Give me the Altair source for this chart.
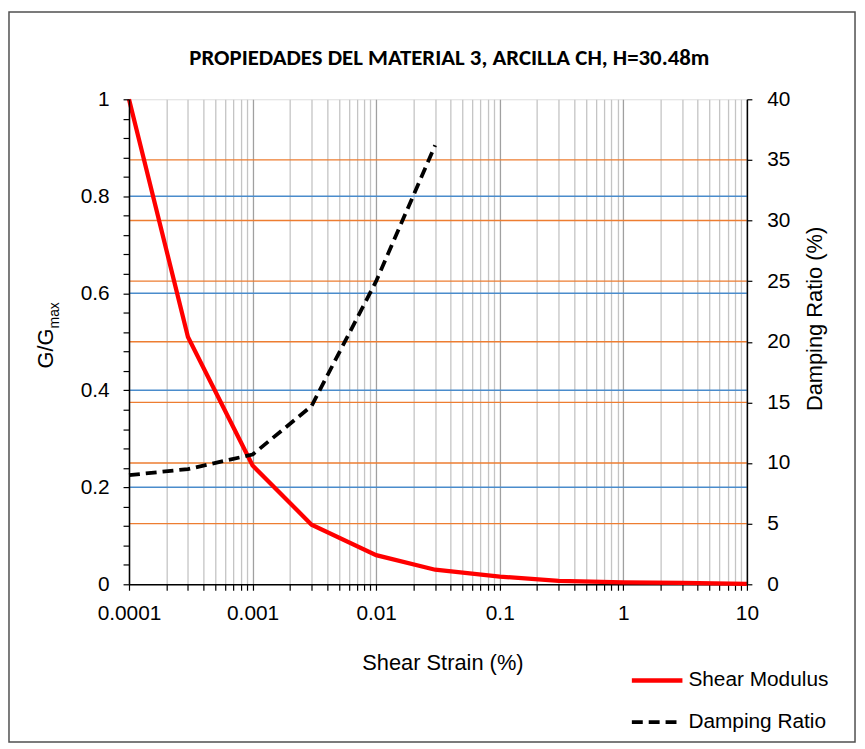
import altair as alt
import pandas as pd

# ---- data ----
strain_g = [0.0001, 0.0003, 0.001, 0.003, 0.01, 0.03, 0.1, 0.3, 1, 3, 10]
g_ratio = [1.0, 0.51, 0.245, 0.123, 0.060, 0.030, 0.016, 0.007, 0.004, 0.003, 0.001]

strain_d = [0.0001, 0.0003, 0.001, 0.003, 0.01, 0.03]
damping = [9.0, 9.5, 10.7, 14.7, 25.0, 36.2]

blue_grid = [0.2, 0.4, 0.6, 0.8]
orange_grid = [5, 10, 15, 20, 25, 30, 35]

x_ticks = [k * 10.0 ** e for e in range(-4, 1) for k in range(1, 10)] + [10]
left_ticks = [round(i * 0.04, 2) for i in range(26)]
right_ticks = [0, 5, 10, 15, 20, 25, 30, 35, 40]

legend_labels = ["Shear Modulus", "Damping Ratio"]
chart_title = "PROPIEDADES DEL MATERIAL 3, ARCILLA CH, H=30.48m"

W, H = 623, 489
PAD = {"left": 122, "top": 89, "right": 111, "bottom": 161}
FONT = "Liberation Sans"

df_g = pd.DataFrame({"strain": strain_g, "g": g_ratio})
df_d = pd.DataFrame({"strain": strain_d, "d": damping})
df_blue = pd.DataFrame({"v": blue_grid})
df_orange = pd.DataFrame({"v": orange_grid})

decade_test = "abs(log(datum.value)/LN10 - round(log(datum.value)/LN10)) < 0.001"

x_enc = alt.X(
    "strain:Q",
    scale=alt.Scale(type="log", domain=[0.0001, 10]),
    axis=alt.Axis(
        values=x_ticks,
        labelExpr=f"{decade_test} ? format(datum.value, '~g') : ''",
        labelOverlap=False,
        labelFlush=False,
        labelFont=FONT,
        labelFontSize=21,
        labelColor="black",
        labelPadding=13,
        tickSize=6,
        tickColor="black",
        tickWidth=1.2,
        domainColor="black",
        domainWidth=1.5,
        grid=True,
        gridColor={"condition": {"test": decade_test, "value": "#a0a0a0"}, "value": "#c4c4c4"},
        gridWidth=1.3,
        title="Shear Strain (%)",
        titleFont=FONT,
        titleFontSize=22,
        titleFontWeight="normal",
        titleColor="black",
        titleX=316,
        titleY=79,
        titleBaseline="middle",
    ),
)

blue_rules = alt.Chart(df_blue).mark_rule(color="#4a8ccc", strokeWidth=1.4).encode(
    y=alt.Y("v:Q", scale=alt.Scale(domain=[0, 1]), axis=None)
)
orange_rules = alt.Chart(df_orange).mark_rule(color="#ed7d31", strokeWidth=1.4).encode(
    y=alt.Y("v:Q", scale=alt.Scale(domain=[0, 40]), axis=None)
)

red_line = alt.Chart(df_g).mark_line(color="#ff0000", strokeWidth=4.3, clip=False).encode(
    x=x_enc,
    y=alt.Y(
        "g:Q",
        scale=alt.Scale(domain=[0, 1]),
        axis=alt.Axis(
            orient="left",
            values=left_ticks,
            labelExpr="abs(datum.value*5 - round(datum.value*5)) < 0.001 ? format(datum.value, '~g') : ''",
            labelOverlap=False,
            labelFlush=False,
            labelFont=FONT,
            labelFontSize=21,
            labelColor="black",
            labelPadding=14,
            tickSize=6,
            tickColor="black",
            tickWidth=1.2,
            domainColor="black",
            domainWidth=1.5,
            grid=False,
            title="G/G",
            titleFont=FONT,
            titleFontSize=22,
            titleFontWeight="normal",
            titleColor="black",
            titleAngle=270,
            titleAlign="left",
            titleBaseline="alphabetic",
            titleX=-77,
            titleY=271,
            zindex=2,
        ),
    ),
)

black_line = alt.Chart(df_d).mark_line(
    color="black", strokeWidth=3.8, strokeDash=[11, 6], clip=False
).encode(
    x=alt.X("strain:Q", scale=alt.Scale(type="log", domain=[0.0001, 10])),
    y=alt.Y(
        "d:Q",
        scale=alt.Scale(domain=[0, 40]),
        axis=alt.Axis(
            orient="right",
            values=right_ticks,
            labelFont=FONT,
            labelFontSize=21,
            labelColor="black",
            labelPadding=15,
            tickSize=5,
            tickColor="black",
            tickWidth=1.2,
            domainColor="black",
            domainWidth=1.5,
            grid=False,
            title="Damping Ratio (%)",
            titleFont=FONT,
            titleFontSize=22,
            titleFontWeight="normal",
            titleColor="black",
            titleAngle=270,
            titleAlign="center",
            titleBaseline="alphabetic",
            titleX=75,
            titleY=221,
            zindex=2,
        ),
    ),
)

one = alt.Data(values=[{"k": 0}])

title_mark = alt.Chart(one).mark_text(
    text=chart_title, align="center", baseline="alphabetic",
    font="Carlito, Lato, Open Sans", fontSize=23, fontWeight="bold", color="black"
).encode(x=alt.value(323), y=alt.value(-35))

sub_max = alt.Chart(one).mark_text(
    text="max", angle=270, align="left", baseline="alphabetic",
    font=FONT, fontSize=14, color="black"
).encode(x=alt.value(-71), y=alt.value(231))

leg_red = alt.Chart(one).mark_rule(color="#ff0000", strokeWidth=4.3).encode(
    x=alt.value(507), x2=alt.value(558), y=alt.value(586)
)
leg_black = alt.Chart(one).mark_rule(color="black", strokeWidth=3.8, strokeDash=[11, 6]).encode(
    x=alt.value(507), x2=alt.value(558), y=alt.value(628)
)
leg_txt1 = alt.Chart(one).mark_text(
    text=legend_labels[0], align="left", baseline="middle", font=FONT, fontSize=21, color="black"
).encode(x=alt.value(564), y=alt.value(586))
leg_txt2 = alt.Chart(one).mark_text(
    text=legend_labels[1], align="left", baseline="middle", font=FONT, fontSize=21, color="black"
).encode(x=alt.value(564), y=alt.value(628))

frame = alt.Chart(one).mark_rect(
    fillOpacity=0, stroke="#505050", strokeWidth=1.5
).encode(x=alt.value(-121), x2=alt.value(W + PAD["right"] - 2), y=alt.value(-88), y2=alt.value(H + PAD["bottom"] - 2))

chart = alt.layer(
    frame, blue_rules, orange_rules, red_line, black_line, sub_max, title_mark,
    leg_red, leg_black, leg_txt1, leg_txt2,
).resolve_scale(y="independent").properties(
    width=W,
    height=H,
    padding=PAD,
    autosize=alt.AutoSizeParams(type="none"),
).configure_view(stroke="black", strokeWidth=1.5).configure(background="white")

chart.save("out.html", embed_options={"renderer": "svg", "actions": False})
